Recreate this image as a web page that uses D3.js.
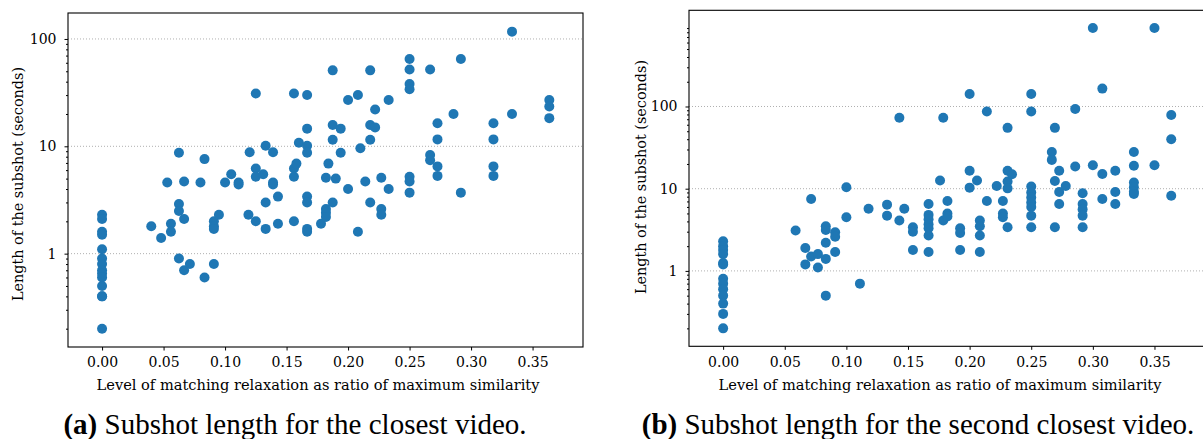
<!DOCTYPE html>
<html>
<head>
<meta charset="utf-8">
<style>
  body { margin: 0; background: #fff; }
  svg { display: block; }
</style>
</head>
<body>
<svg id="chart" width="1203" height="439"></svg>

<script src="https://d3js.org/d3.v7.min.js"></script>
<script>
// matching relaxation ratio (x) and the subshot lengths found at that ratio (y, seconds)
var closestRatios = [0, 0.04, 0.048, 0.053, 0.056, 0.0625, 0.0667, 0.0714, 0.08, 0.0833,
  0.0909, 0.095, 0.1, 0.105, 0.111, 0.119, 0.12, 0.125, 0.131, 0.133,
  0.139, 0.143, 0.156, 0.158, 0.16, 0.1667, 0.178, 0.182, 0.184, 0.1875,
  0.19, 0.194, 0.2, 0.208, 0.21, 0.214, 0.218, 0.222, 0.227, 0.233,
  0.25, 0.2667, 0.2727, 0.2857, 0.2917, 0.3182, 0.3333, 0.3636];
var closestLengths = [
  [2.3, 2.1, 1.6, 1.5, 1.1, 0.9, 0.8, 0.7, 0.65, 0.6, 0.5, 0.4, 0.4, 0.2],
  [1.8], [1.4], [4.6], [1.9, 1.6], [8.7, 2.9, 2.5, 0.9], [4.7, 2.1, 0.7], [0.8], [4.6], [7.6, 0.6],
  [2.0, 1.8, 1.7, 0.8], [2.3], [4.6], [5.5], [4.6, 4.4], [2.3], [8.8], [31, 6.2, 5.2, 2.0], [5.5], [10.1, 3.0, 1.7],
  [8.8, 4.6, 4.4], [3.4, 1.9], [31, 6.2, 5.2, 2.0], [6.9], [10.8], [30, 14.6, 10.1, 8.7, 3.4, 3.0, 1.7, 1.6], [1.9], [5.1, 2.6, 2.4, 2.2], [6.9], [51, 15.8, 11.5, 3.0],
  [5.0], [14.6, 8.7], [27, 4.0], [30, 1.6], [9.6], [4.7], [51, 15.8, 11.5, 3.0], [22, 15], [5.1, 2.6, 2.3], [27, 4.0],
  [65, 52, 38, 34, 5.2, 4.7, 3.7], [52, 8.3, 7.4], [16.4, 11.6, 6.5, 5.3], [20], [65, 3.7], [16.4, 11.6, 6.5, 5.3], [117, 20], [27, 23.5, 18.3]
];

var secondRatios = [0, 0.0588, 0.0667, 0.0714, 0.0769, 0.0833, 0.0909, 0.1, 0.111, 0.118,
  0.133, 0.143, 0.147, 0.154, 0.1667, 0.176, 0.1786, 0.182, 0.1923, 0.2,
  0.206, 0.2083, 0.214, 0.222, 0.227, 0.2308, 0.2344, 0.25, 0.2667, 0.2692,
  0.2727, 0.278, 0.2857, 0.2917, 0.3, 0.3077, 0.3182, 0.3333, 0.35, 0.3636];
var secondLengths = [
  [2.3, 2.0, 1.8, 1.6, 1.25, 1.2, 0.8, 0.7, 0.6, 0.5, 0.4, 0.3, 0.2],
  [3.1], [1.9, 1.2], [7.5, 1.5], [1.6, 1.1], [3.5, 3.15, 2.2, 1.4, 0.5], [2.95, 2.6, 1.7], [10.4, 4.5], [0.7], [5.7],
  [6.4, 4.7], [73, 4.1], [5.7], [3.4, 3.0, 1.8], [6.5, 4.8, 4.25, 3.7, 3.3, 2.7, 1.7], [12.6], [73, 4.1], [7.1, 5.0, 4.6], [3.3, 2.9, 1.8], [142, 16.5, 10.3],
  [12.6], [4.1, 3.5, 2.7, 1.7], [87, 7.1], [10.8], [7.1, 5.0, 4.5], [55, 16.5, 12.2, 10.1, 3.4], [15], [142, 87, 10.6, 9.0, 7.8, 6.8, 6.0, 4.7, 3.4], [28, 22.4], [55, 12.4, 3.4],
  [16.5, 9.1, 6.5], [10.8], [93, 18.6], [8.8, 6.5, 5.6, 4.7, 3.4], [900, 19.3], [165, 15.1, 7.5], [16.5, 9.1, 6.5], [28, 19, 11.9, 10.4, 9.2, 8.6], [900, 19.3], [79, 40, 8.2]
];

var xTicks = [0, 0.05, 0.1, 0.15, 0.2, 0.25, 0.3, 0.35];
var yMajorTicks = [1, 10, 100];

var xLabel = "Level of matching relaxation as ratio of maximum similarity";
var yLabel = "Length of the subshot (seconds)";
var captionTags = ["(a)", "(b)"];
var captionTexts = [" Subshot length for the closest video.", " Subshot length for the second closest video."];

var svg = d3.select("#chart");
svg.append("rect").attr("width", 1203).attr("height", 439).attr("fill", "#fff");

function drawPanel(ratios, lengths, box, tag, text) {
  var points = [];
  ratios.forEach(function(r, i) {
    lengths[i].forEach(function(v) { points.push([r, v]); });
  });

  var x = d3.scaleLinear().domain([-0.0277, 0.391]).range([box.left, box.right]);
  var y = d3.scaleLog().domain(box.yDomain).range([box.bottom, box.top]);

  var g = svg.append("g");

  // dotted grid on the decades
  g.selectAll(".grid")
    .data(yMajorTicks)
    .enter().append("line")
    .attr("x1", box.left).attr("x2", box.right)
    .attr("y1", function(d) { return y(d); })
    .attr("y2", function(d) { return y(d); })
    .attr("stroke", "#b0b0b0")
    .attr("stroke-width", 1)
    .attr("stroke-dasharray", "1,2");

  g.selectAll(".dot")
    .data(points)
    .enter().append("circle")
    .attr("cx", function(d) { return x(d[0]); })
    .attr("cy", function(d) { return y(d[1]); })
    .attr("r", 5)
    .attr("fill", "#1f77b4");

  // axes box
  g.append("rect")
    .attr("x", box.left).attr("y", box.top)
    .attr("width", box.right - box.left).attr("height", box.bottom - box.top)
    .attr("fill", "none").attr("stroke", "#000").attr("stroke-width", 1.1);

  var xAxis = g.append("g")
    .attr("transform", "translate(0," + box.bottom + ")")
    .call(d3.axisBottom(x).tickValues(xTicks).tickFormat(d3.format(".2f")).tickSize(3.5).tickPadding(7));

  var minor = y.ticks().filter(function(v) {
    var l = Math.log10(v);
    return Math.abs(l - Math.round(l)) > 1e-6;
  });
  var yMinor = g.append("g")
    .attr("transform", "translate(" + box.left + ",0)")
    .call(d3.axisLeft(y).tickValues(minor).tickFormat("").tickSize(2));
  var yAxis = g.append("g")
    .attr("transform", "translate(" + box.left + ",0)")
    .call(d3.axisLeft(y).tickValues(yMajorTicks).tickFormat(d3.format("d")).tickSize(3.5).tickPadding(8));

  [xAxis, yMinor, yAxis].forEach(function(a) {
    a.select(".domain").remove();
    a.selectAll("line").attr("stroke", "#000").attr("stroke-width", 1);
    a.selectAll("text")
      .attr("fill", "#000")
      .style("font-family", "'DejaVu Serif', serif")
      .style("font-size", "14px");
  });

  g.append("text")
    .attr("x", box.xLabelX).attr("y", 390)
    .attr("text-anchor", "middle")
    .style("font-family", "'DejaVu Serif', serif")
    .style("font-size", "14.6px")
    .text(xLabel);

  g.append("text")
    .attr("transform", "translate(" + box.yLabelX + "," + box.yLabelY + ") rotate(-90)")
    .attr("text-anchor", "middle")
    .style("font-family", "'DejaVu Serif', serif")
    .style("font-size", "14.4px")
    .text(yLabel);

  var cap = g.append("text")
    .attr("x", box.captionX).attr("y", 434)
    .attr("text-anchor", "middle")
    .style("font-family", "'Liberation Serif', serif")
    .style("font-size", "29px");
  cap.append("tspan").style("font-weight", "bold").text(tag);
  cap.append("tspan").text(text);
}

drawPanel(closestRatios, closestLengths,
  { left: 68, right: 583, top: 13, bottom: 347, yDomain: [0.135, 174.5],
    xLabelX: 318, yLabelX: 23, yLabelY: 184, captionX: 295 },
  captionTags[0], captionTexts[0]);

drawPanel(secondRatios, secondLengths,
  { left: 689, right: 1205, top: 10.3, bottom: 346.3, yDomain: [0.121, 1480],
    xLabelX: 940, yLabelX: 646, yLabelY: 177, captionX: 918 },
  captionTags[1], captionTexts[1]);
</script>
</body>
</html>
